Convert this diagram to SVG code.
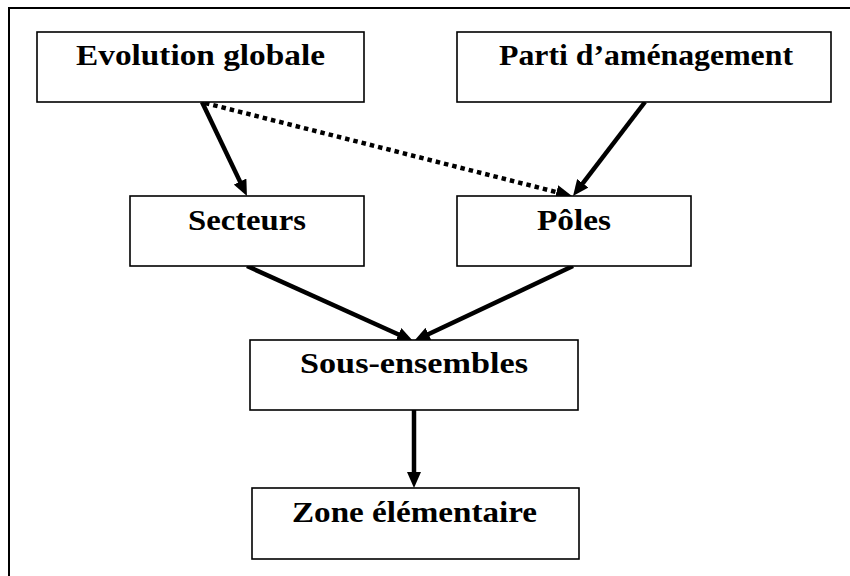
<svg xmlns="http://www.w3.org/2000/svg" width="850" height="576" viewBox="0 0 850 576">
<style>
.box{fill:#fff;stroke:#000;stroke-width:1.6}
.lbl{font-family:"Liberation Serif","Times New Roman",serif;font-weight:bold;font-size:30px;fill:#000;text-anchor:middle}
.arr{stroke:#000;stroke-width:4.5;fill:none}
.dot{stroke:#000;stroke-width:4.5;fill:none;stroke-dasharray:4.5 4}
.frame{stroke:#000;stroke-width:2;fill:none}
</style>
<defs>
<marker id="ah" viewBox="0 0 16 14" refX="5" refY="7" markerWidth="16" markerHeight="14" markerUnits="userSpaceOnUse" orient="auto">
<path d="M0,0 L16,7 L0,14 z" fill="#000"/>
</marker>
</defs>
<rect width="850" height="576" fill="#fff"/>
<path class="frame" d="M9,576 L9,8 L850,8"/>
<g id="connectors">
<line class="arr" x1="202" y1="102" x2="242.2" y2="186.1" marker-end="url(#ah)"/>
<line class="dot" x1="205" y1="103" x2="561.3" y2="193.3" marker-end="url(#ah)"/>
<line class="arr" x1="645" y1="102" x2="579.7" y2="187.3" marker-end="url(#ah)"/>
<line class="arr" x1="247" y1="266" x2="403" y2="336.5" marker-end="url(#ah)"/>
<line class="arr" x1="573" y1="266" x2="424" y2="336.3" marker-end="url(#ah)"/>
<line class="arr" x1="414" y1="410" x2="414" y2="477" marker-end="url(#ah)"/>
</g>
<g id="evolution">
<rect class="box" x="37" y="32" width="327" height="70"/>
<text class="lbl" x="200.5" y="65" textLength="249" lengthAdjust="spacingAndGlyphs">Evolution globale</text>
</g>
<g id="parti">
<rect class="box" x="457" y="32" width="374" height="70"/>
<text class="lbl" x="646" y="65" textLength="294" lengthAdjust="spacingAndGlyphs">Parti d’aménagement</text>
</g>
<g id="secteurs">
<rect class="box" x="130" y="196" width="234" height="70"/>
<text class="lbl" x="247" y="230" textLength="118" lengthAdjust="spacingAndGlyphs">Secteurs</text>
</g>
<g id="poles">
<rect class="box" x="457" y="196" width="234" height="70"/>
<text class="lbl" x="574" y="230" textLength="74" lengthAdjust="spacingAndGlyphs">Pôles</text>
</g>
<g id="sous-ensembles">
<rect class="box" x="250" y="340" width="328" height="70"/>
<text class="lbl" x="414" y="373" textLength="228" lengthAdjust="spacingAndGlyphs">Sous-ensembles</text>
</g>
<g id="zone">
<rect class="box" x="252" y="488" width="327" height="71"/>
<text class="lbl" x="414.5" y="522" textLength="245" lengthAdjust="spacingAndGlyphs">Zone élémentaire</text>
</g>
</svg>
